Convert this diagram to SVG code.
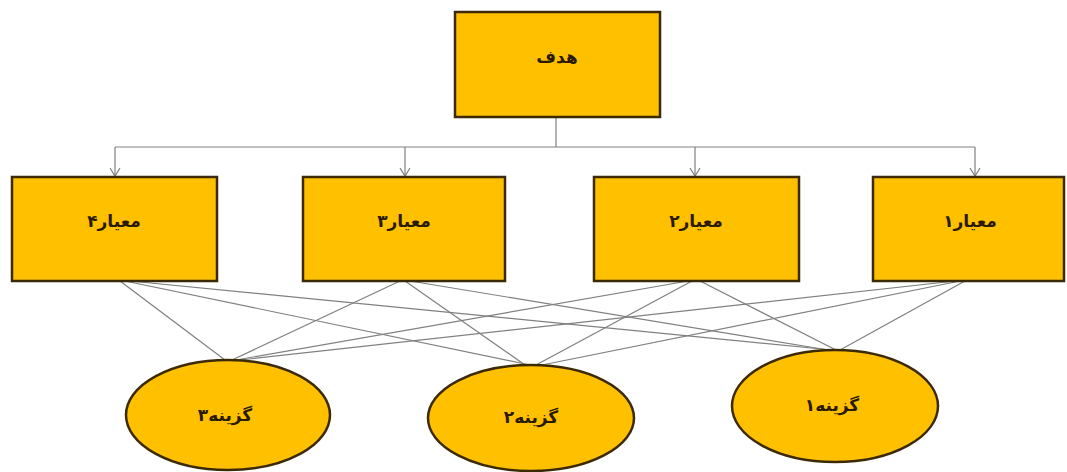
<svg xmlns="http://www.w3.org/2000/svg" width="1067" height="472" viewBox="0 0 1067 472">
<defs>
<style>
.n{fill:#FFC000;stroke:#3b2a05;stroke-width:2.5}
.t{font-family:"DejaVu Sans",sans-serif;font-size:17px;font-weight:bold;fill:#2a1a00;text-anchor:middle;dominant-baseline:middle}
.c{stroke:#808080;stroke-width:1.2;fill:none}
</style>
<marker id="ar" markerWidth="12" markerHeight="12" refX="10" refY="6" orient="auto" markerUnits="userSpaceOnUse" viewBox="0 0 12 12">
<path d="M2,1 L10,6 L2,11" fill="none" stroke="#808080" stroke-width="1.2"/>
</marker>
</defs>
<rect width="1067" height="472" fill="#fff"/>
<g id="connectors">
<line class="c" x1="556" y1="117" x2="556" y2="147"/>
<line class="c" x1="115" y1="147" x2="975" y2="147"/>
<line class="c" x1="115" y1="147" x2="115" y2="176" marker-end="url(#ar)"/>
<line class="c" x1="405" y1="147" x2="405" y2="176" marker-end="url(#ar)"/>
<line class="c" x1="695" y1="147" x2="695" y2="176" marker-end="url(#ar)"/>
<line class="c" x1="975" y1="147" x2="975" y2="176" marker-end="url(#ar)"/>
<line class="c" x1="120" y1="281" x2="225" y2="360"/>
<line class="c" x1="125" y1="281" x2="530" y2="365"/>
<line class="c" x1="130" y1="281" x2="832" y2="350"/>
<line class="c" x1="400" y1="281" x2="232" y2="360"/>
<line class="c" x1="405" y1="281" x2="525" y2="365"/>
<line class="c" x1="410" y1="281" x2="828" y2="350"/>
<line class="c" x1="688" y1="281" x2="236" y2="360"/>
<line class="c" x1="692" y1="281" x2="536" y2="365"/>
<line class="c" x1="700" y1="281" x2="836" y2="350"/>
<line class="c" x1="955" y1="281" x2="240" y2="360"/>
<line class="c" x1="960" y1="281" x2="542" y2="365"/>
<line class="c" x1="965" y1="281" x2="840" y2="350"/>
</g>
<g id="goal">
<rect class="n" x="455" y="12" width="205" height="105"/>
<text class="t" x="557" y="58">هدف</text>
</g>
<g id="c4">
<rect class="n" x="12" y="177" width="205" height="104"/>
<text class="t" x="114" y="222">معیار۴</text>
</g>
<g id="c3">
<rect class="n" x="303" y="177" width="202" height="104"/>
<text class="t" x="404" y="222">معیار۳</text>
</g>
<g id="c2">
<rect class="n" x="594" y="177" width="205" height="104"/>
<text class="t" x="696" y="222">معیار۲</text>
</g>
<g id="c1">
<rect class="n" x="873" y="177" width="191" height="104"/>
<text class="t" x="970" y="222">معیار۱</text>
</g>
<g id="a3">
<ellipse class="n" cx="228" cy="415" rx="102" ry="55"/>
<text class="t" x="225" y="416">گزینه۳</text>
</g>
<g id="a2">
<ellipse class="n" cx="531" cy="418" rx="103" ry="53"/>
<text class="t" x="531" y="418">گزینه۲</text>
</g>
<g id="a1">
<ellipse class="n" cx="835" cy="406" rx="103" ry="56"/>
<text class="t" x="832" y="406">گزینه۱</text>
</g>
</svg>
